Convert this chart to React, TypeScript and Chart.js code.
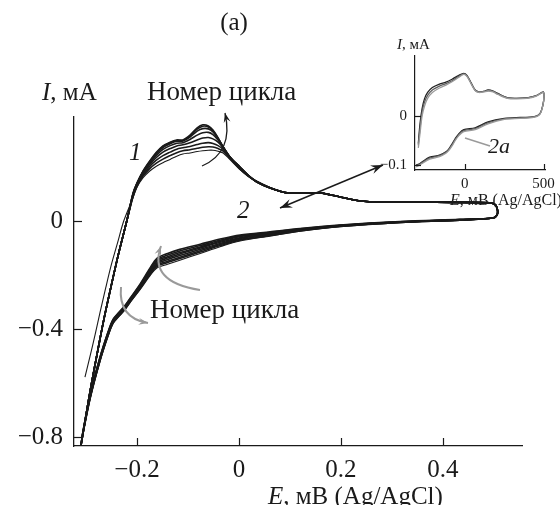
import React, { useEffect, useRef } from "react";
import { Chart, registerables } from "chart.js";

Chart.register(...registerables);

const FONT = '"Liberation Serif", "Times New Roman", serif';
const INK = "#1a1a1a";

// ---------- main chart data (E in V, I in mA) ----------
const xTicks = [-0.2, 0, 0.2, 0.4];
const yTicks = [-0.8, -0.4, 0];

// anodic start, cycles 2..8
const anodicStartE = [-0.31, -0.3, -0.29, -0.278, -0.265, -0.251, -0.236, -0.22];
const anodicStartI = [-0.833, -0.72, -0.61, -0.49, -0.365, -0.244, -0.12, 0.0];
// anodic start, cycle 1 (thin outer line)
const firstStartE = [-0.302, -0.292, -0.282, -0.272, -0.261, -0.25, -0.238, -0.226];
const firstStartI = [-0.578, -0.5, -0.42, -0.335, -0.245, -0.16, -0.08, 0.0];

// anodic peak region
const peakE = [-0.208, -0.2, -0.188, -0.175, -0.162, -0.149, -0.135, -0.122, -0.11, -0.096, -0.082, -0.071, -0.06, -0.051, -0.041, -0.031, -0.018, 0.002, 0.018, 0.035, 0.061];
const peakI1 = [0.085, 0.125, 0.16, 0.185, 0.203, 0.216, 0.228, 0.24, 0.248, 0.252, 0.257, 0.26, 0.262, 0.262, 0.258, 0.252, 0.228, 0.19, 0.165, 0.147, 0.124];
const peakI2 = [0.088, 0.128, 0.166, 0.194, 0.214, 0.229, 0.242, 0.253, 0.26, 0.264, 0.269, 0.273, 0.275, 0.274, 0.268, 0.259, 0.232, 0.192, 0.167, 0.146, 0.123];
const peakI3 = [0.091, 0.131, 0.171, 0.202, 0.225, 0.242, 0.255, 0.266, 0.271, 0.276, 0.283, 0.288, 0.29, 0.287, 0.279, 0.265, 0.234, 0.194, 0.168, 0.146, 0.123];
const peakI4 = [0.094, 0.134, 0.176, 0.209, 0.235, 0.255, 0.268, 0.278, 0.282, 0.29, 0.3, 0.307, 0.309, 0.304, 0.292, 0.271, 0.236, 0.196, 0.168, 0.145, 0.123];
const peakI5 = [0.097, 0.137, 0.18, 0.214, 0.243, 0.265, 0.279, 0.288, 0.29, 0.302, 0.318, 0.327, 0.328, 0.32, 0.3, 0.273, 0.237, 0.198, 0.169, 0.145, 0.122];
const peakI6 = [0.099, 0.139, 0.183, 0.218, 0.249, 0.272, 0.286, 0.295, 0.296, 0.311, 0.333, 0.342, 0.341, 0.33, 0.305, 0.274, 0.238, 0.199, 0.169, 0.144, 0.122];
const peakI7 = [0.1, 0.139, 0.184, 0.22, 0.252, 0.276, 0.29, 0.298, 0.298, 0.315, 0.34, 0.351, 0.348, 0.334, 0.307, 0.274, 0.238, 0.2, 0.17, 0.144, 0.122];
const peakI8 = [0.1, 0.14, 0.185, 0.222, 0.254, 0.278, 0.292, 0.3, 0.3, 0.318, 0.345, 0.356, 0.352, 0.337, 0.308, 0.274, 0.238, 0.2, 0.17, 0.144, 0.122];

// anodic tail + turn at the positive end
const tailE = [0.094, 0.125, 0.159, 0.198, 0.237, 0.29, 0.355, 0.42, 0.492, 0.503, 0.507, 0.506, 0.498];
const tailI = [0.104, 0.103, 0.104, 0.089, 0.074, 0.07, 0.07, 0.069, 0.067, 0.06, 0.04, 0.022, 0.011];

// cathodic branch
const cathE = [0.433, 0.316, 0.198, 0.12, 0.061, 0.002, -0.037, -0.076, -0.116, -0.14, -0.161, -0.175, -0.194, -0.212, -0.224, -0.235, -0.247, -0.257, -0.273, -0.292, -0.306, -0.31];
const cathI1 = [0.002, -0.006, -0.021, -0.038, -0.056, -0.074, -0.095, -0.12, -0.145, -0.16, -0.174, -0.204, -0.254, -0.298, -0.33, -0.353, -0.38, -0.428, -0.523, -0.66, -0.79, -0.833];
const cathI2 = [0.003, -0.005, -0.02, -0.037, -0.054, -0.071, -0.091, -0.115, -0.139, -0.154, -0.169, -0.2, -0.251, -0.296, -0.328, -0.351, -0.378, -0.426, -0.521, -0.658, -0.789, -0.833];
const cathI3 = [0.003, -0.005, -0.019, -0.035, -0.051, -0.068, -0.087, -0.11, -0.134, -0.149, -0.164, -0.196, -0.248, -0.293, -0.325, -0.348, -0.375, -0.423, -0.518, -0.655, -0.787, -0.833];
const cathI4 = [0.004, -0.004, -0.018, -0.034, -0.049, -0.065, -0.083, -0.105, -0.128, -0.143, -0.159, -0.192, -0.245, -0.291, -0.323, -0.346, -0.373, -0.421, -0.516, -0.653, -0.786, -0.833];
const cathI5 = [0.004, -0.004, -0.017, -0.032, -0.047, -0.062, -0.079, -0.1, -0.122, -0.137, -0.154, -0.188, -0.242, -0.289, -0.321, -0.344, -0.371, -0.419, -0.514, -0.651, -0.784, -0.833];
const cathI6 = [0.005, -0.003, -0.017, -0.031, -0.045, -0.058, -0.075, -0.096, -0.117, -0.132, -0.148, -0.184, -0.24, -0.287, -0.318, -0.341, -0.368, -0.416, -0.511, -0.648, -0.783, -0.833];
const cathI7 = [0.005, -0.003, -0.016, -0.029, -0.042, -0.055, -0.071, -0.091, -0.111, -0.126, -0.143, -0.18, -0.237, -0.284, -0.316, -0.339, -0.366, -0.414, -0.509, -0.646, -0.781, -0.833];
const cathI8 = [0.006, -0.002, -0.015, -0.028, -0.04, -0.052, -0.067, -0.086, -0.105, -0.12, -0.138, -0.176, -0.234, -0.282, -0.314, -0.337, -0.364, -0.412, -0.507, -0.644, -0.78, -0.833];

const peakSets = [peakI1, peakI2, peakI3, peakI4, peakI5, peakI6, peakI7, peakI8];
const cathSets = [cathI1, cathI2, cathI3, cathI4, cathI5, cathI6, cathI7, cathI8];

// ---------- inset data (E in mV, I in mA) ----------
const insetXTicks = [0, 500];
const insetYTicks = [-0.1, 0];
const insetE = [-294, -283, -270, -255, -235, -205, -160, -119, -80, -37, -6, 14, 40, 66, 90, 120, 148, 180, 210, 272, 330, 395, 450, 498, 502, 497, 477, 436, 351, 251, 148, 66, -6, -37, -60, -78, -100, -119, -160, -222, -284, -308];
const insetIA = [-0.056, -0.015, 0.015, 0.035, 0.048, 0.058, 0.065, 0.069, 0.075, 0.083, 0.087, 0.083, 0.068, 0.053, 0.049, 0.05, 0.053, 0.051, 0.046, 0.037, 0.036, 0.037, 0.041, 0.049, 0.04, 0.025, 0.005, -0.002, -0.003, -0.005, -0.012, -0.024, -0.028, -0.036, -0.046, -0.056, -0.067, -0.073, -0.08, -0.084, -0.097, -0.1];
const insetIB = [-0.06, -0.025, 0.008, 0.028, 0.042, 0.053, 0.061, 0.066, 0.072, 0.081, 0.086, 0.082, 0.067, 0.053, 0.049, 0.05, 0.052, 0.05, 0.045, 0.037, 0.036, 0.037, 0.041, 0.048, 0.039, 0.024, 0.005, -0.002, -0.004, -0.006, -0.014, -0.026, -0.03, -0.038, -0.048, -0.058, -0.068, -0.074, -0.081, -0.086, -0.098, -0.102];
const insetIC = [-0.065, -0.035, 0.0, 0.02, 0.036, 0.048, 0.057, 0.063, 0.07, 0.079, 0.085, 0.081, 0.066, 0.052, 0.048, 0.049, 0.051, 0.049, 0.044, 0.036, 0.035, 0.036, 0.04, 0.048, 0.039, 0.024, 0.004, -0.003, -0.005, -0.007, -0.016, -0.028, -0.032, -0.04, -0.05, -0.06, -0.07, -0.076, -0.083, -0.088, -0.1, -0.104];

const zip = (xs: number[], ys: number[]) => xs.map((x, i) => ({ x, y: ys[i] }));

const buildCycle = (k: number) => {
  const start = k === 0 ? zip(firstStartE, firstStartI) : zip(anodicStartE, anodicStartI);
  return [...start, ...zip(peakE, peakSets[k]), ...zip(tailE, tailI), ...zip(cathE, cathSets[k])];
};

const fmt = (v: number) => (v < 0 ? "\u2212" + String(Math.abs(v)) : String(v));

function drawRich(ctx: CanvasRenderingContext2D, parts: [string, boolean][], x: number, y: number, size: number) {
  let cx = x;
  ctx.textAlign = "left";
  ctx.textBaseline = "alphabetic";
  for (const [t, it] of parts) {
    ctx.font = `${it ? "italic " : ""}${size}px ${FONT}`;
    ctx.fillText(t, cx, y);
    cx += ctx.measureText(t).width;
  }
}

function arrowHead(ctx: CanvasRenderingContext2D, tx: number, ty: number, ang: number, size: number) {
  ctx.beginPath();
  ctx.moveTo(tx, ty);
  ctx.lineTo(tx - size * Math.cos(ang - 0.35), ty - size * Math.sin(ang - 0.35));
  ctx.lineTo(tx - size * 0.6 * Math.cos(ang), ty - size * 0.6 * Math.sin(ang));
  ctx.lineTo(tx - size * Math.cos(ang + 0.35), ty - size * Math.sin(ang + 0.35));
  ctx.closePath();
  ctx.fill();
}

function curvedArrow(ctx: CanvasRenderingContext2D, p0: number[], c: number[], p2: number[], color: string, w: number, head: number) {
  ctx.strokeStyle = color;
  ctx.fillStyle = color;
  ctx.lineWidth = w;
  ctx.beginPath();
  ctx.moveTo(p0[0], p0[1]);
  ctx.quadraticCurveTo(c[0], c[1], p2[0], p2[1]);
  ctx.stroke();
  arrowHead(ctx, p2[0], p2[1], Math.atan2(p2[1] - c[1], p2[0] - c[0]), head);
}

const inwardTicks = (len: number) => ({
  id: "inwardTicks",
  afterDatasetsDraw(chart: any) {
    const { ctx, chartArea, scales } = chart;
    ctx.save();
    ctx.strokeStyle = INK;
    ctx.lineWidth = 1.2;
    for (const t of scales.x.ticks) {
      const px = Math.round(scales.x.getPixelForValue(t.value)) + 0.5;
      ctx.beginPath();
      ctx.moveTo(px, chartArea.bottom);
      ctx.lineTo(px, chartArea.bottom - len);
      ctx.stroke();
    }
    for (const t of scales.y.ticks) {
      const py = Math.round(scales.y.getPixelForValue(t.value)) + 0.5;
      ctx.beginPath();
      ctx.moveTo(chartArea.left, py);
      ctx.lineTo(chartArea.left + len, py);
      ctx.stroke();
    }
    ctx.restore();
  },
});

const mainNotes = {
  id: "mainNotes",
  afterDatasetsDraw(chart: any) {
    const ctx: CanvasRenderingContext2D = chart.ctx;
    ctx.save();
    ctx.fillStyle = INK;
    ctx.font = `25px ${FONT}`;
    ctx.textAlign = "center";
    ctx.textBaseline = "alphabetic";
    ctx.fillText("(a)", 234, 30);
    drawRich(ctx, [["I", true], [", мА", false]], 42, 100, 25);
    drawRich(ctx, [["E", true], [", мВ (Ag/AgCl)", false]], 268, 504, 25);
    drawRich(ctx, [["1", true]], 129, 160, 25);
    drawRich(ctx, [["2", true]], 237, 218, 25);
    drawRich(ctx, [["Номер цикла", false]], 147, 100, 27);
    drawRich(ctx, [["Номер цикла", false]], 150, 318, 27);
    curvedArrow(ctx, [202, 166], [234, 152], [225, 113], INK, 1.3, 10);
    ctx.strokeStyle = INK;
    ctx.fillStyle = INK;
    ctx.lineWidth = 1.5;
    ctx.beginPath();
    ctx.moveTo(280, 208);
    ctx.lineTo(383, 165);
    ctx.stroke();
    const ang = Math.atan2(165 - 208, 383 - 280);
    arrowHead(ctx, 383, 165, ang, 13);
    arrowHead(ctx, 280, 208, ang + Math.PI, 13);
    curvedArrow(ctx, [200, 290], [148, 282], [161, 246], "#9a9a9a", 2, 10);
    curvedArrow(ctx, [121, 287], [118, 318], [148, 323], "#9a9a9a", 2, 10);
    ctx.restore();
  },
};

const insetNotes = {
  id: "insetNotes",
  afterDatasetsDraw(chart: any) {
    const ctx: CanvasRenderingContext2D = chart.ctx;
    ctx.save();
    ctx.fillStyle = INK;
    drawRich(ctx, [["I", true], [", мА", false]], 397, 49, 15);
    drawRich(ctx, [["E", true], [", мВ (Ag/AgCl)", false]], 450, 205, 16);
    ctx.strokeStyle = "#9a9a9a";
    ctx.lineWidth = 1.6;
    ctx.beginPath();
    ctx.moveTo(465, 138);
    ctx.lineTo(490, 146);
    ctx.stroke();
    ctx.fillStyle = INK;
    drawRich(ctx, [["2a", true]], 488, 153, 22);
    ctx.restore();
  },
};

export default function App() {
  const mainRef = useRef<HTMLCanvasElement>(null);
  const insetRef = useRef<HTMLCanvasElement>(null);

  useEffect(() => {
    const datasets = peakSets.map((_, k) => ({
      data: buildCycle(k),
      borderColor: INK,
      borderWidth: k === 0 ? 1.1 : 1.6,
      pointRadius: 0,
      tension: 0.3,
      fill: false,
    }));
    const main = new Chart(mainRef.current!, {
      type: "line",
      data: { datasets },
      options: {
        animation: false,
        responsive: false,
        devicePixelRatio: 1,
        layout: { padding: { top: 117, right: 38, left: 0, bottom: 0 } },
        plugins: { legend: { display: false }, tooltip: { enabled: false } },
        scales: {
          x: {
            type: "linear",
            min: -0.3235,
            max: 0.555,
            grid: { display: false, drawTicks: false },
            border: { display: true, color: INK, width: 1.3 },
            ticks: { font: { family: FONT, size: 25 }, color: INK, padding: 9, autoSkip: false, maxRotation: 0, callback: (v: any) => fmt(Number(v)) },
            afterBuildTicks: (s: any) => { s.ticks = xTicks.map((v) => ({ value: v })); },
            afterFit: (s: any) => { s.height = 59; },
          },
          y: {
            type: "linear",
            min: -0.833,
            max: 0.385,
            grid: { display: false, drawTicks: false },
            border: { display: true, color: INK, width: 1.3 },
            ticks: { font: { family: FONT, size: 25 }, color: INK, padding: 11, autoSkip: false, callback: (v: any) => fmt(Number(v)) },
            afterBuildTicks: (s: any) => { s.ticks = yTicks.map((v) => ({ value: v })); },
            afterFit: (s: any) => { s.width = 74; },
          },
        },
      },
      plugins: [inwardTicks(8), mainNotes],
    } as any);

    const insetSets = [
      { ys: insetIC, color: "#9a9a9a" },
      { ys: insetIB, color: "#5e5e5e" },
      { ys: insetIA, color: "#222222" },
    ];
    const inset = new Chart(insetRef.current!, {
      type: "line",
      data: {
        datasets: insetSets.map((s) => ({
          data: zip(insetE, s.ys),
          borderColor: s.color,
          borderWidth: 1.3,
          pointRadius: 0,
          tension: 0.3,
          fill: false,
        })),
      },
      options: {
        animation: false,
        responsive: false,
        devicePixelRatio: 1,
        layout: { padding: { top: 56, right: 12, left: 0, bottom: 0 } },
        plugins: { legend: { display: false }, tooltip: { enabled: false } },
        scales: {
          x: {
            type: "linear",
            min: -315,
            max: 510,
            grid: { display: false, drawTicks: false },
            border: { display: true, color: INK, width: 1.2 },
            ticks: { font: { family: FONT, size: 15 }, color: INK, padding: 5, autoSkip: false, maxRotation: 0, callback: (v: any) => fmt(Number(v)) },
            afterBuildTicks: (s: any) => { s.ticks = insetXTicks.map((v) => ({ value: v })); },
            afterFit: (s: any) => { s.height = 335; },
          },
          y: {
            type: "linear",
            min: -0.1102,
            max: 0.1224,
            grid: { display: false, drawTicks: false },
            border: { display: true, color: INK, width: 1.2 },
            ticks: { font: { family: FONT, size: 15 }, color: INK, padding: 8, autoSkip: false, callback: (v: any) => fmt(Number(v)) },
            afterBuildTicks: (s: any) => { s.ticks = insetYTicks.map((v) => ({ value: v })); },
            afterFit: (s: any) => { s.width = 415; },
          },
        },
      },
      plugins: [inwardTicks(6), insetNotes],
    } as any);

    return () => {
      main.destroy();
      inset.destroy();
    };
  }, []);

  return (
    <div style={{ position: "fixed", left: 0, top: 0, width: 560, height: 505, background: "#fff" }}>
      <canvas ref={mainRef} width={560} height={505} style={{ position: "absolute", left: 0, top: 0, width: 560, height: 505 }} />
      <canvas ref={insetRef} width={560} height={505} style={{ position: "absolute", left: 0, top: 0, width: 560, height: 505 }} />
    </div>
  );
}
